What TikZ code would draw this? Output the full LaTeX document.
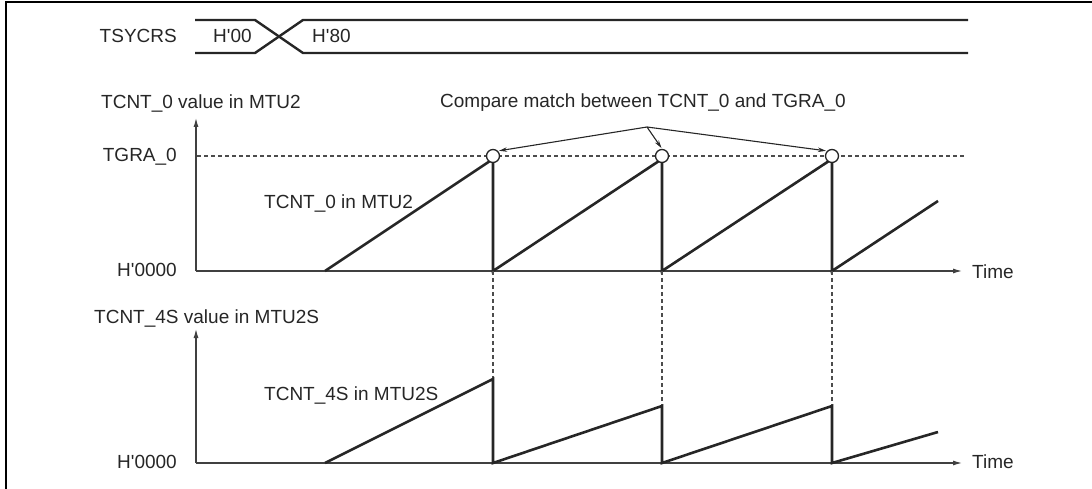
\documentclass[tikz,border=0pt]{standalone}
\usepackage{fontspec}
\setmainfont{Liberation Sans}
\usepackage{tikz}
\usetikzlibrary{arrows.meta,positioning}
\newcommand{\sq}{\textquotesingle}

\begin{document}
\begin{tikzpicture}[
  x=1pt, y=-1pt,
  font=\fontsize{19}{22}\selectfont,
  lbl/.style={inner sep=0pt, text=black!85},
  frame/.style={line width=2pt, black},
  bus/.style={line width=2.4pt, black!85, line join=round},
  wave/.style={line width=2.6pt, black!85, line join=miter},
  axis/.style={line width=1.7pt, black!75, -{Latex[length=10pt,width=5pt]}},
  guide/.style={line width=1.3pt, black!70, dash pattern=on 4pt off 3pt},
  match/.style={circle, draw=black!85, fill=white, line width=1.3pt, minimum size=13pt, inner sep=0pt},
  note/.style={line width=1.1pt, black!85, -{Stealth[length=8pt,width=4.5pt]}, shorten >=1pt}
]
\useasboundingbox (0,0) rectangle (1092,489);
\draw[frame] (6,489) -- (6,2.5) -- (1092,2.5);

% TSYCRS bus
\node[lbl, anchor=base east] (tsy) at (177,43) {TSYCRS};
\node[lbl, anchor=base west] (v00) at (213,43) {H\sq00};
\node[lbl, anchor=base west] (v80) at (312,43) {H\sq80};
\draw[bus] (195,20) -- (255,20) -- (303,53) -- (968,53);
\draw[bus] (195,53) -- (255,53) -- (303,20) -- (968,20);

% TCNT_0 graph
\coordinate (o0) at (196,271);
\coordinate (y0) at (196,117);
\coordinate (x0) at (963,271);
\node[lbl, anchor=base west] (ylab0) at (101,109) {TCNT\_0 value in MTU2};
\node[lbl, anchor=base east] (tgra) at (177,162) {TGRA\_0};
\node[lbl, anchor=base east] (zero0) at (177,276) {H\sq0000};
\node[lbl, anchor=base west] (cnt0) at (264,209) {TCNT\_0 in MTU2};
\node[lbl, anchor=base west] (time0) at (972,278) {Time};
\draw[guide] (197,156) -- (965,156);
\draw[axis] (o0) -- (y0);
\draw[axis] (o0) -- (x0);
\draw[wave] (325,271) -- (493,159) -- (493,271) -- (662,159) -- (662,271)
  -- (832,159) -- (832,271) -- (938,201);
\node[match] (m1) at (493,156) {};
\node[match] (m2) at (662,156) {};
\node[match] (m3) at (832,156) {};

% compare match note
\node[lbl, anchor=base west] (cmp) at (440,108) {Compare match between TCNT\_0 and TGRA\_0};
\coordinate (cm) at (647,127);
\draw[note] (cm) -- (m1.north east);
\draw[note] (cm) -- (m2.north);
\draw[note] (cm) -- (m3.north west);

% TCNT_4S graph
\coordinate (o4) at (196,463);
\coordinate (y4) at (196,328);
\coordinate (x4) at (963,463);
\node[lbl, anchor=base west] (ylab4) at (94,323) {TCNT\_4S value in MTU2S};
\node[lbl, anchor=base east] (zero4) at (177,468) {H\sq0000};
\node[lbl, anchor=base west] (cnt4) at (264,400) {TCNT\_4S in MTU2S};
\node[lbl, anchor=base west] (time4) at (972,468) {Time};
\coordinate (p1) at (493,379);
\coordinate (p2) at (662,406);
\coordinate (p3) at (832,406);
\draw[guide] (493,271) -- (p1);
\draw[guide] (662,271) -- (p2);
\draw[guide] (832,271) -- (p3);
\draw[axis] (o4) -- (y4);
\draw[axis] (o4) -- (x4);
\draw[wave] (325,463) -- (p1) -- (493,463) -- (p2) -- (662,463)
  -- (p3) -- (832,463) -- (938,432);
\end{tikzpicture}
\end{document}
